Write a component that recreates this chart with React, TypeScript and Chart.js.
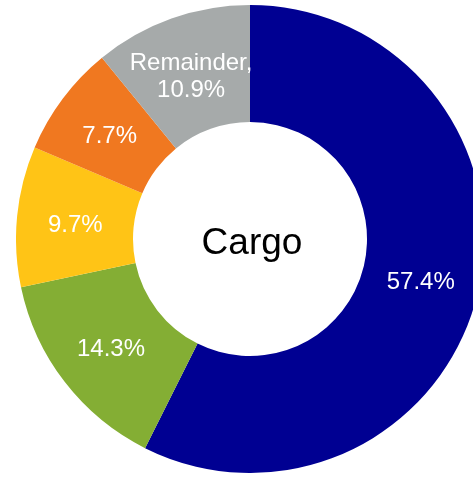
import React, { useEffect, useRef } from "react";
import { Chart, registerables } from "chart.js";

Chart.register(...registerables);

const categories: string[][] = [["57.4%"], ["14.3%"], ["9.7%"], ["7.7%"], ["Remainder,", "10.9%"]];
const values: number[] = [57.4, 14.3, 9.7, 7.7, 10.9];
const colors: string[] = ["#000092", "#84AE34", "#FFC416", "#F07820", "#A6AAAA"];
const centerLabel = "Cargo";

const labelPlugin = {
  id: "sliceLabels",
  afterDatasetsDraw(chart: any) {
    const ctx = chart.ctx;
    const meta = chart.getDatasetMeta(0);
    ctx.save();
    ctx.fillStyle = "#ffffff";
    ctx.font = "24px 'Liberation Sans', Arial, sans-serif";
    ctx.textAlign = "center";
    ctx.textBaseline = "middle";
    meta.data.forEach((arc: any, i: number) => {
      const p = arc.tooltipPosition();
      const lines = categories[i];
      const lh = 27;
      const start = p.y + 3 - ((lines.length - 1) * lh) / 2;
      lines.forEach((t, j) => ctx.fillText(t, p.x, start + j * lh));
    });
    const a = meta.data[0];
    ctx.fillStyle = "#000000";
    ctx.font = "37px 'Liberation Sans', Arial, sans-serif";
    ctx.fillText(centerLabel, a.x + 2, a.y + 5);
    ctx.restore();
  },
};

export default function App() {
  const ref = useRef<HTMLCanvasElement>(null);
  useEffect(() => {
    if (!ref.current) return;
    const chart = new Chart(ref.current, {
      type: "doughnut",
      data: {
        labels: categories.map((c) => c.join(" ")),
        datasets: [
          {
            data: values,
            backgroundColor: colors,
            borderWidth: 0,
          },
        ],
      },
      options: {
        responsive: false,
        animation: false,
        cutout: "50%",
        layout: { padding: 0 },
        plugins: { legend: { display: false }, tooltip: { enabled: false } },
      },
      plugins: [labelPlugin],
    });
    return () => chart.destroy();
  }, []);
  return (
    <div style={{ position: "fixed", left: 0, top: 0, width: 473, height: 477, overflow: "hidden", background: "#fff" }}>
      <canvas ref={ref} width={468} height={468} style={{ position: "absolute", left: 16, top: 5, width: 468, height: 468 }} />
    </div>
  );
}
